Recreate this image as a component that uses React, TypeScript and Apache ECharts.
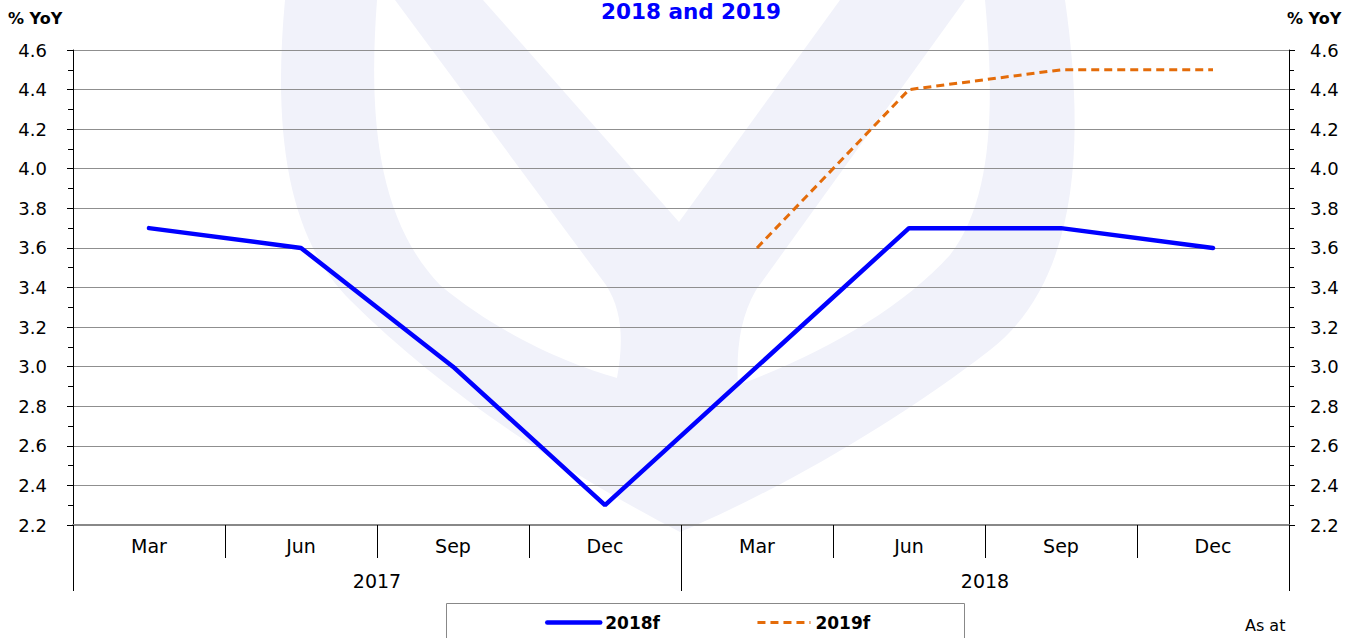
import React, { useEffect, useRef } from "react";
import * as echarts from "echarts";

const months = ["Mar", "Jun", "Sep", "Dec", "Mar", "Jun", "Sep", "Dec"];
const years = ["2017", "2018"];
const f2018 = [3.7, 3.6, 3.0, 2.3, 3.0, 3.7, 3.7, 3.6];
const f2019 = [null, null, null, null, 3.6, 4.4, 4.5, 4.5];
const seriesNames = ["2018f", "2019f"];
const yMin = 2.2;
const yMax = 4.6;
const yStep = 0.2;
const titleText = "2018 and 2019";
const unitText = "% YoY";
const noteText = "As at";

// watermark logo (approximate)
const WM_OUTER =
  "M285,0 C272,140 290,240 350,300 C450,400 580,480 680,532 C780,490 900,420 990,350 C1080,280 1085,140 1065,0 Z";
const WM_LEAF_L =
  "M377,0 C368,120 378,220 440,285 C500,335 570,365 617,378 C624,340 622,310 606,285 L395,0 Z";
const WM_TRI = "M483,0 L679,222 L840,0 Z";
const WM_LEAF_R =
  "M965,0 L756,290 C740,318 736,350 738,385 C820,355 900,310 950,255 C992,200 995,110 985,0 Z";

echarts.graphic.registerShape("wmOuter", echarts.graphic.extendPath(WM_OUTER, {}));
echarts.graphic.registerShape("wmLeafL", echarts.graphic.extendPath(WM_LEAF_L, {}));
echarts.graphic.registerShape("wmTri", echarts.graphic.extendPath(WM_TRI, {}));
echarts.graphic.registerShape("wmLeafR", echarts.graphic.extendPath(WM_LEAF_R, {}));

const FONT = "DejaVu Sans";

export default function App() {
  const ref = useRef<HTMLDivElement>(null);

  useEffect(() => {
    document.body.style.margin = "0";
    if (!ref.current) return;
    const chart = echarts.init(ref.current, null, { renderer: "svg" });
    const wmColor = "#f1f2fa";
    const yAxisCommon = {
      type: "value",
      min: yMin,
      max: yMax,
      interval: yStep,
      axisLine: { show: true, lineStyle: { color: "#000", width: 1 } },
      axisTick: { show: true, length: 6, lineStyle: { color: "#000" } },
      minorTick: { show: true, splitNumber: 2, length: 5, lineStyle: { color: "#000" } },
      axisLabel: {
        fontFamily: FONT,
        fontSize: 18,
        color: "#000",
        formatter: (v: number) => v.toFixed(1),
      },
    };
    const txt = (text: string, x: number, y: number, size: number, bold: boolean, fill: string, align: string) => ({
      type: "text",
      x,
      y,
      z: 10,
      style: {
        text,
        fill,
        fontFamily: FONT,
        fontWeight: bold ? "bold" : "normal",
        fontSize: size,
        align,
        textAlign: align,
        verticalAlign: "middle",
        textVerticalAlign: "middle",
      },
    });
    chart.setOption({
      animation: false,
      backgroundColor: "#fff",
      grid: { left: 73, right: 74, top: 50, bottom: 113, containLabel: false },
      graphic: [
        { type: "wmOuter", x: 0, y: 0, z: -10, silent: true, style: { fill: wmColor } },
        { type: "wmLeafL", x: 0, y: 0, z: -9, silent: true, style: { fill: "#fff" } },
        { type: "wmTri", x: 0, y: 0, z: -9, silent: true, style: { fill: "#fff" } },
        { type: "wmLeafR", x: 0, y: 0, z: -9, silent: true, style: { fill: "#fff" } },
        txt(titleText, 691, 11, 21.5, true, "#0000ff", "center"),
        txt(unitText, 8, 18, 16, true, "#000", "left"),
        txt(unitText, 1287, 18, 16, true, "#000", "left"),
        {
          type: "rect",
          z: 5,
          shape: { x: 446.5, y: 603.5, width: 518, height: 60 },
          style: { fill: "none", stroke: "#888", lineWidth: 1 },
        },
        txt(noteText, 1245, 625, 16, false, "#000", "left"),
      ],
      legend: {
        left: 545,
        top: 614,
        padding: 0,
        itemWidth: 53,
        itemHeight: 18,
        itemGap: 96,
        data: seriesNames,
        lineStyle: { width: "inherit" },
        itemStyle: { opacity: 0 },
        textStyle: {
          fontFamily: FONT,
          fontWeight: "bold",
          fontSize: 17,
          color: "#000",
        },
      },
      xAxis: [
        {
          type: "category",
          data: months,
          position: "bottom",
          boundaryGap: true,
          axisLine: { show: true, lineStyle: { color: "#888", width: 2 } },
          axisTick: { show: true, length: 33, lineStyle: { color: "#000" } },
          axisLabel: { interval: 0, margin: 11, fontFamily: FONT, fontSize: 19, color: "#000" },
          splitLine: { show: false },
        },
        {
          type: "category",
          data: years,
          position: "bottom",
          offset: 0,
          boundaryGap: true,
          axisLine: { show: false },
          axisTick: { show: true, length: 66, lineStyle: { color: "#000" } },
          axisLabel: { interval: 0, margin: 46, fontFamily: FONT, fontSize: 19, color: "#000" },
          splitLine: { show: false },
        },
      ],
      yAxis: [
        {
          ...yAxisCommon,
          position: "left",
          axisLabel: { ...yAxisCommon.axisLabel, margin: 26 },
          splitLine: { show: true, lineStyle: { color: "#8f8f8f", width: 1 } },
        },
        {
          ...yAxisCommon,
          position: "right",
          axisLabel: { ...yAxisCommon.axisLabel, margin: 21 },
          splitLine: { show: false },
        },
      ],
      series: [
        {
          name: seriesNames[0],
          type: "line",
          data: f2018,
          xAxisIndex: 0,
          yAxisIndex: 0,
          symbol: "none",
          z: 3,
          lineStyle: { color: "#0000ff", width: 4.5, cap: "round" },
          itemStyle: { color: "#0000ff" },
        },
        {
          name: seriesNames[1],
          type: "line",
          data: f2019,
          xAxisIndex: 0,
          yAxisIndex: 0,
          symbol: "none",
          z: 3,
          lineStyle: { color: "#e46c0a", width: 3, type: [8, 5] },
          itemStyle: { color: "#e46c0a" },
        },
      ],
    });
    return () => chart.dispose();
  }, []);

  return <div ref={ref} style={{ width: 1363, height: 638 }} />;
}
